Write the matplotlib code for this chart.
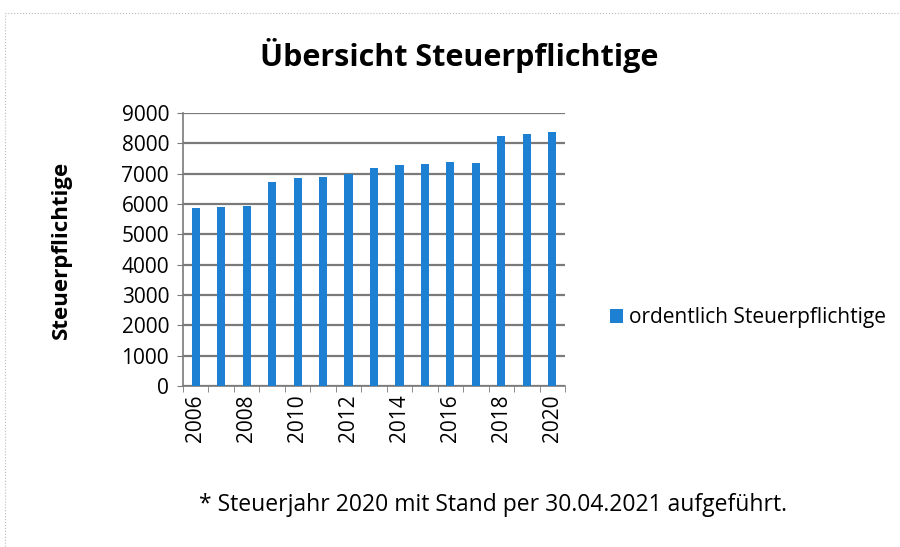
import numpy as np
import matplotlib.pyplot as plt
from matplotlib.patches import Rectangle

years = list(range(2006, 2021))
steuerpflichtige = [5860, 5890, 5925, 6725, 6850, 6900, 7000, 7175,
                    7275, 7330, 7395, 7350, 8250, 8310, 8375]
y_ticks = [0, 1000, 2000, 3000, 4000, 5000, 6000, 7000, 8000, 9000]

plt.rcParams['font.family'] = ['Open Sans', 'DejaVu Sans']

fig = plt.figure(figsize=(9, 5.47), dpi=100)
ax = fig.add_axes([183 / 900, 1 - 386 / 547, (565 - 183) / 900, (386 - 113) / 547])

x = np.arange(len(years))
ax.bar(x, steuerpflichtige, width=0.32, color='#1E80D2', zorder=3,
       label='ordentlich Steuerpflichtige')

ax.set_xlim(-0.5, len(years) - 0.5)
ax.set_ylim(0, 9000)
ax.set_yticks(y_ticks)
ax.set_yticklabels([str(v) for v in y_ticks], fontsize=15)
ax.yaxis.grid(True, color='#7a7a7a', linewidth=1.6, zorder=0)
ax.tick_params(axis='y', length=4, color='#7a7a7a', pad=6)

ax.set_xticks(x[::2])
ax.set_xticklabels([str(y) for y in years[::2]], rotation=90, fontsize=15)
ax.set_xticks(np.arange(len(years) + 1) - 0.5, minor=True)
ax.tick_params(axis='x', which='major', length=0, pad=6)
ax.tick_params(axis='x', which='minor', length=4, color='#7a7a7a')

for s in ['top', 'right']:
    ax.spines[s].set_visible(False)
for s in ['left', 'bottom']:
    ax.spines[s].set_color('#7a7a7a')
    ax.spines[s].set_linewidth(1.2)

ax.set_ylabel('Steuerpflichtige', fontsize=16, fontweight='bold', labelpad=36)

fig.text(0.51, 1 - 55 / 547, 'Übersicht Steuerpflichtige', fontsize=22,
         fontweight='bold', ha='center', va='center')

leg = ax.legend(loc='center left', bbox_to_anchor=(1.07, 0.25), frameon=False,
                fontsize=15, handlelength=0.6, handleheight=0.6, handletextpad=0.3)

fig.text(0.548, 1 - 505 / 547, '* Steuerjahr 2020 mit Stand per 30.04.2021 aufgeführt.',
         fontsize=16.5, ha='center', va='center')

# Rahmen
fig.patches.append(Rectangle((5 / 900, -0.01), 1.0, 1 - 13 / 547 + 0.01,
                             transform=fig.transFigure, fill=False,
                             edgecolor='#bbbbbb', linewidth=0.8, linestyle=':'))

fig.savefig('out.png', dpi=100)
